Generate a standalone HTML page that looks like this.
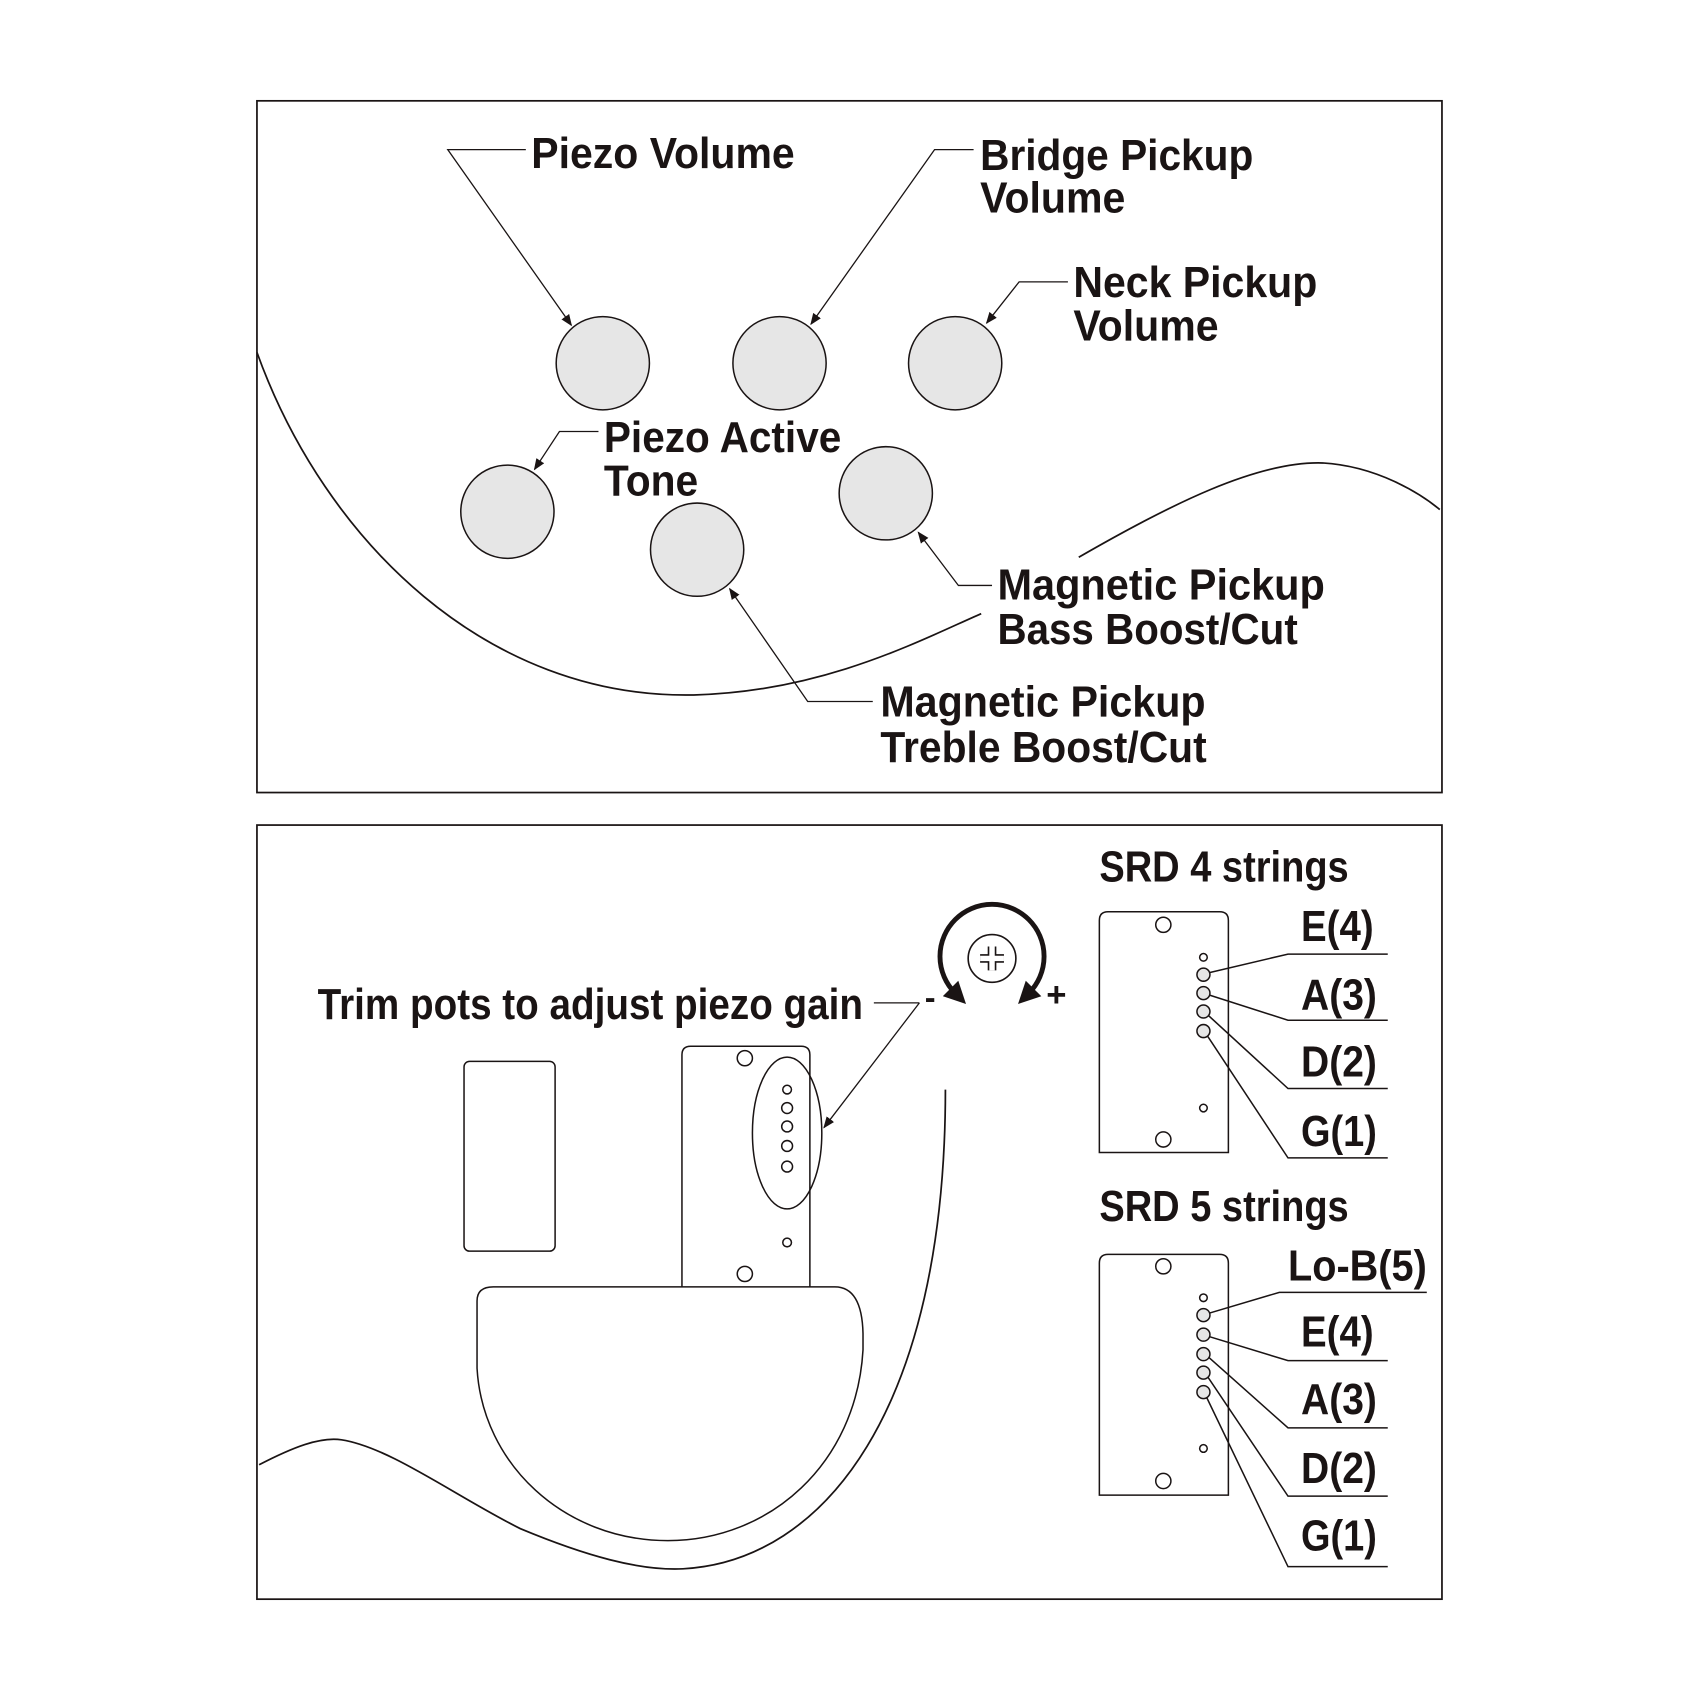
<!DOCTYPE html>
<html><head><meta charset="utf-8"><style>
html,body{margin:0;padding:0;background:#fff;}
svg{display:block;}
text{font-family:"Liberation Sans",sans-serif;font-weight:bold;fill:#1a1414;}
</style></head><body>
<svg width="1700" height="1700" viewBox="0 0 1568 1568" xmlns="http://www.w3.org/2000/svg">
<defs><marker id="a" viewBox="0 0 10 10" refX="9" refY="5" markerWidth="9" markerHeight="9" orient="auto"><path d="M0,1 L10,5 L0,9 Z" fill="#1a1414"/></marker>
<marker id="b" viewBox="0 0 10 10" refX="3" refY="5" markerWidth="4.5" markerHeight="4.5" orient="auto-start-reverse"><path d="M0,0 L10,5 L0,10 Z" fill="#1a1414"/></marker></defs>
<g fill="none" stroke="#1a1414" stroke-width="1.6">
<rect x="237" y="93" width="1093" height="638"/>
<rect x="237" y="761" width="1093" height="714"/>
<path d="M237,325 C300,500 450,645 640,641 C760,638 850,590 905,566"/>
<path d="M995,514 C1080,465 1160,425 1220,427 C1270,430 1310,455 1328,470"/>
</g>
<g fill="#e6e6e6" stroke="#1a1414" stroke-width="1.4">
<circle cx="556" cy="335" r="43"/><circle cx="719" cy="335" r="43"/><circle cx="881" cy="335" r="43"/>
<circle cx="468" cy="472" r="43"/><circle cx="817" cy="455" r="43"/><circle cx="643" cy="507" r="43"/>
</g>
<g fill="none" stroke="#1a1414" stroke-width="1.2">
<path d="M485,138 H413 L527,300" marker-end="url(#a)"/>
<path d="M898,138 H862 L748,299" marker-end="url(#a)"/>
<path d="M985,260 H940 L910,298" marker-end="url(#a)"/>
<path d="M552,398 H516 L493,433" marker-end="url(#a)"/>
<path d="M915,540 H884 L847,491" marker-end="url(#a)"/>
<path d="M805,647 H745 L673,543" marker-end="url(#a)"/>
<path d="M848,925 H806" />
<path d="M848,925 L760,1040" marker-end="url(#a)"/>
</g>
<g font-size="40">
<text x="490" y="155" textLength="243" lengthAdjust="spacingAndGlyphs">Piezo Volume</text>
<text x="904" y="157" textLength="252" lengthAdjust="spacingAndGlyphs">Bridge Pickup</text>
<text x="904" y="196" textLength="134" lengthAdjust="spacingAndGlyphs">Volume</text>
<text x="990" y="274" textLength="225" lengthAdjust="spacingAndGlyphs">Neck Pickup</text>
<text x="990" y="314" textLength="134" lengthAdjust="spacingAndGlyphs">Volume</text>
<text x="557" y="417" textLength="219" lengthAdjust="spacingAndGlyphs">Piezo Active</text>
<text x="557" y="457" textLength="87" lengthAdjust="spacingAndGlyphs">Tone</text>
<text x="920" y="553" textLength="302" lengthAdjust="spacingAndGlyphs">Magnetic Pickup</text>
<text x="920" y="594" textLength="277" lengthAdjust="spacingAndGlyphs">Bass Boost/Cut</text>
<text x="812" y="661" textLength="300" lengthAdjust="spacingAndGlyphs">Magnetic Pickup</text>
<text x="812" y="703" textLength="301" lengthAdjust="spacingAndGlyphs">Treble Boost/Cut</text>
<text x="293" y="940" textLength="503" lengthAdjust="spacingAndGlyphs">Trim pots to adjust piezo gain</text>
<text x="1014" y="813" textLength="230" lengthAdjust="spacingAndGlyphs">SRD 4 strings</text>
<text x="1014" y="1126" textLength="230" lengthAdjust="spacingAndGlyphs">SRD 5 strings</text>
<text x="1200" y="868" textLength="67" lengthAdjust="spacingAndGlyphs">E(4)</text>
<text x="1200" y="931" textLength="70" lengthAdjust="spacingAndGlyphs">A(3)</text>
<text x="1200" y="993" textLength="70" lengthAdjust="spacingAndGlyphs">D(2)</text>
<text x="1200" y="1057" textLength="70" lengthAdjust="spacingAndGlyphs">G(1)</text>
<text x="1188" y="1181" textLength="128" lengthAdjust="spacingAndGlyphs">Lo-B(5)</text>
<text x="1200" y="1242" textLength="67" lengthAdjust="spacingAndGlyphs">E(4)</text>
<text x="1200" y="1304" textLength="70" lengthAdjust="spacingAndGlyphs">A(3)</text>
<text x="1200" y="1368" textLength="70" lengthAdjust="spacingAndGlyphs">D(2)</text>
<text x="1200" y="1430" textLength="70" lengthAdjust="spacingAndGlyphs">G(1)</text>
</g>
<text x="853" y="930" font-size="30" font-weight="normal">-</text>
<text x="965" y="928" font-size="32" font-weight="normal">+</text>
<!-- rotation symbol -->
<g fill="none" stroke="#1a1414">
<circle cx="915" cy="884" r="22" stroke-width="1.5"/>
<path d="M904,884 H926 M915,873 V895" stroke-width="8"/>
<path d="M904,884 H926 M915,873 V895" stroke="#fff" stroke-width="5"/>
<path d="M881,916 A48,48 0 1 1 949,916" stroke-width="4.5" marker-start="url(#b)" marker-end="url(#b)"/>
</g>
<g fill="none" stroke="#1a1414" stroke-width="1.4">
<rect x="428" y="979" width="84" height="175" rx="5"/>
<path d="M629,1188 V973 Q629,965 637,965 H739 Q747,965 747,973 V1188"/>
<circle cx="687" cy="976" r="7"/><circle cx="687" cy="1175" r="7"/>
<circle cx="726" cy="1005" r="4"/><circle cx="726" cy="1146" r="4"/>
<circle cx="726" cy="1022" r="5"/><circle cx="726" cy="1039" r="5"/><circle cx="726" cy="1057" r="5"/><circle cx="726" cy="1076" r="5"/>
<ellipse cx="726" cy="1045" rx="32" ry="70"/>
<path d="M455,1187 H770 Q795,1187 796,1230 L796,1245 C790,1350 710,1421 616,1421 C520,1421 445,1350 440,1262 L440,1200 Q440,1187 455,1187 Z" fill="#fff"/>
<path d="M239,1351 C270,1335 295,1325 315,1328 C360,1335 420,1380 480,1410 C540,1435 590,1449 630,1447 C760,1440 872,1300 872,1005" stroke-width="1.6"/>
<!-- SRD4 -->
<path d="M1014,1063 V849 Q1014,841 1022,841 H1125 Q1133,841 1133,849 V1063 Z"/>
<circle cx="1073" cy="853" r="7"/><circle cx="1073" cy="1051" r="7"/>
<circle cx="1110" cy="883" r="3.5"/><circle cx="1110" cy="1022" r="3.5"/>
<g fill="#e6e6e6"><circle cx="1110" cy="899" r="6"/><circle cx="1110" cy="916" r="6"/><circle cx="1110" cy="933" r="6"/><circle cx="1110" cy="951" r="6"/></g>
<path d="M1116,897 L1188,880 H1280"/>
<path d="M1116,918 L1188,941 H1280"/>
<path d="M1115,937 L1188,1004 H1280"/>
<path d="M1114,956 L1188,1068 H1280"/>
<!-- SRD5 -->
<path d="M1014,1379 V1165 Q1014,1157 1022,1157 H1125 Q1133,1157 1133,1165 V1379 Z"/>
<circle cx="1073" cy="1168" r="7"/><circle cx="1073" cy="1366" r="7"/>
<circle cx="1110" cy="1197" r="3.5"/><circle cx="1110" cy="1336" r="3.5"/>
<g fill="#e6e6e6"><circle cx="1110" cy="1213" r="6"/><circle cx="1110" cy="1231" r="6"/><circle cx="1110" cy="1249" r="6"/><circle cx="1110" cy="1266" r="6"/><circle cx="1110" cy="1284" r="6"/></g>
<path d="M1116,1211 L1180,1192 H1316"/>
<path d="M1116,1233 L1188,1255 H1280"/>
<path d="M1115,1252 L1188,1317 H1280"/>
<path d="M1114,1270 L1188,1380 H1280"/>
<path d="M1113,1289 L1188,1445 H1280"/>
</g>
</svg>
</body></html>
